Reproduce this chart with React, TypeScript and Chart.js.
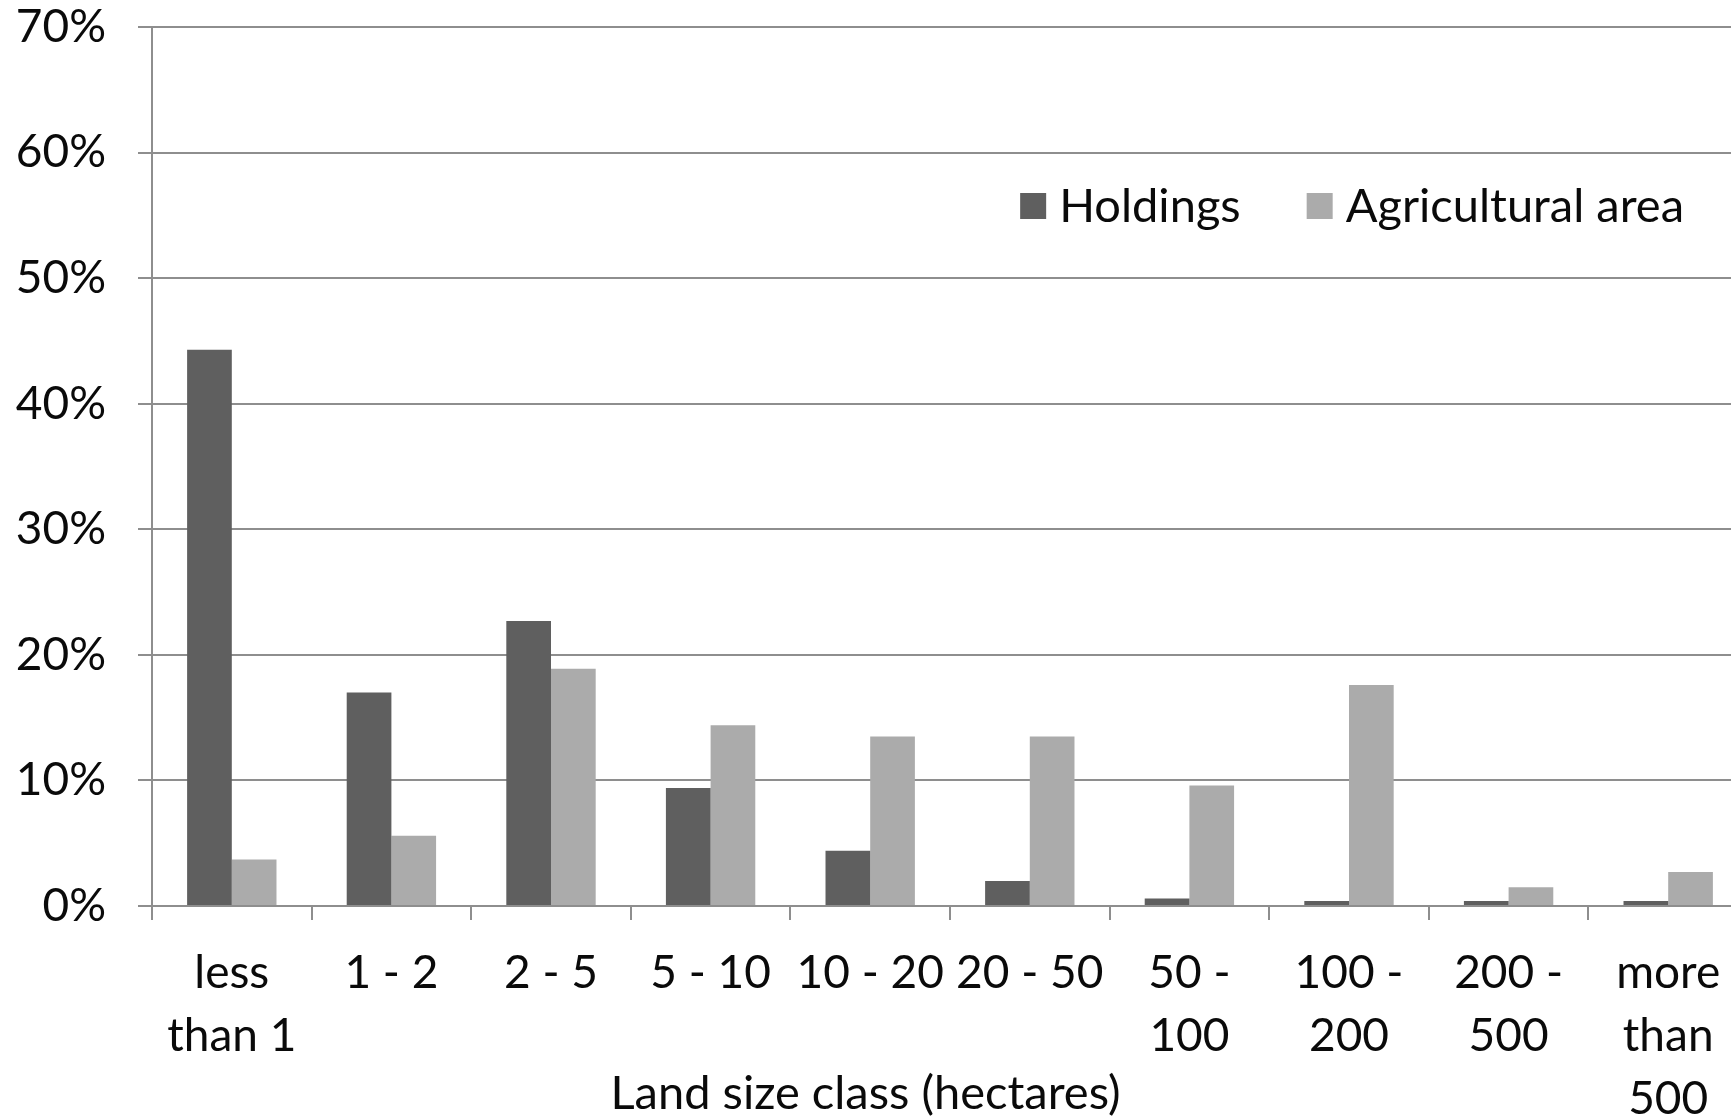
import React, { useEffect, useRef } from "react";
import { Chart, registerables } from "chart.js";

Chart.register(...registerables);

const categories: string[][] = [
  ["less", "than 1"],
  ["1 - 2"],
  ["2 - 5"],
  ["5 - 10"],
  ["10 - 20"],
  ["20 - 50"],
  ["50 -", "100"],
  ["100 -", "200"],
  ["200 -", "500"],
  ["more", "than", "500"],
];
const holdings = [44.3, 17.0, 22.7, 9.4, 4.4, 2.0, 0.6, 0.4, 0.4, 0.4];
const agriculturalArea = [3.7, 5.6, 18.9, 14.4, 13.5, 13.5, 9.6, 17.6, 1.5, 2.7];
const seriesNames = ["Holdings", "Agricultural area"];
const seriesColors = ["#5f5f5f", "#ababab"];
const yMin = 0;
const yMax = 70;
const yStep = 10;
const xTitle = "Land size class (hectares)";

const VIEW_W = 1731;
const VIEW_H = 1117;
const CANVAS_W = 1762;
const FONT = "Lato, 'Open Sans', sans-serif";
const GRID = "#8e8e8e";
const TEXT = "#0a0a0a";

const overlayPlugin = {
  id: "overlay",
  afterDraw(chart: any) {
    const ctx = chart.ctx as CanvasRenderingContext2D;
    const area = chart.chartArea;
    ctx.save();
    // axis title (centered on visible image)
    ctx.font = `47px ${FONT}`;
    ctx.fillStyle = TEXT;
    ctx.textAlign = "center";
    ctx.textBaseline = "middle";
    ctx.fillText(xTitle, VIEW_W / 2, area.bottom + 188);

    // legend inside plot, top right
    ctx.font = `47px ${FONT}`;
    ctx.textAlign = "left";
    const box = 26;
    const gapBoxText = 13;
    const gapItems = 66;
    const yc = area.top + 179;
    const widths = seriesNames.map((n) => ctx.measureText(n).width);
    let total = 0;
    widths.forEach((w, i) => {
      total += box + gapBoxText + w + (i < widths.length - 1 ? gapItems : 0);
    });
    let x = 1684 - total;
    seriesNames.forEach((name, i) => {
      ctx.fillStyle = seriesColors[i];
      ctx.fillRect(x, yc - box / 2, box, box);
      ctx.fillStyle = TEXT;
      ctx.fillText(name, x + box + gapBoxText, yc + 1);
      x += box + gapBoxText + widths[i] + gapItems;
    });
    ctx.restore();
  },
};

export default function App() {
  const ref = useRef<HTMLCanvasElement | null>(null);
  useEffect(() => {
    if (!ref.current) return;
    const chart = new Chart(ref.current, {
      type: "bar",
      data: {
        labels: categories,
        datasets: [
          {
            label: seriesNames[0],
            data: holdings,
            backgroundColor: seriesColors[0],
            borderWidth: 0,
            categoryPercentage: 0.56,
            barPercentage: 1.0,
          },
          {
            label: seriesNames[1],
            data: agriculturalArea,
            backgroundColor: seriesColors[1],
            borderWidth: 0,
            categoryPercentage: 0.56,
            barPercentage: 1.0,
          },
        ],
      },
      options: {
        animation: false,
        responsive: false,
        maintainAspectRatio: false,
        layout: { autoPadding: false, padding: { top: 27, right: 14, bottom: 0, left: 0 } },
        plugins: {
          legend: { display: false },
          tooltip: { enabled: false },
          title: { display: false },
        },
        scales: {
          x: {
            offset: true,
            grid: {
              offset: true,
              drawOnChartArea: false,
              drawTicks: true,
              tickLength: 14,
              color: GRID,
              lineWidth: 2,
            },
            border: { display: true, color: GRID, width: 2 },
            ticks: {
              color: TEXT,
              padding: 22,
              maxRotation: 0,
              autoSkip: false,
              font: { family: FONT, size: 46, lineHeight: 1.37 },
            },
            afterFit: (scale: any) => {
              scale.height = VIEW_H - 906;
              scale.paddingLeft = 0;
              scale.paddingRight = 0;
            },
          },
          y: {
            min: yMin,
            max: yMax,
            ticks: {
              stepSize: yStep,
              color: TEXT,
              padding: 32,
              font: { family: FONT, size: 46 },
              callback: (v: any) => `${v}%`,
            },
            grid: {
              color: GRID,
              lineWidth: 2,
              drawTicks: true,
              tickLength: 14,
            },
            border: { display: true, color: GRID, width: 2 },
            afterFit: (scale: any) => {
              scale.width = 152;
              scale.paddingTop = 0;
              scale.paddingBottom = 0;
            },
          },
        },
      },
      plugins: [overlayPlugin],
    });
    return () => chart.destroy();
  }, []);

  return (
    <div
      style={{
        position: "fixed",
        left: 0,
        top: 0,
        width: VIEW_W,
        height: VIEW_H,
        overflow: "hidden",
        background: "#fff",
      }}
    >
      <canvas
        ref={ref}
        width={CANVAS_W}
        height={VIEW_H}
        style={{ width: CANVAS_W, height: VIEW_H, display: "block" }}
      />
    </div>
  );
}
